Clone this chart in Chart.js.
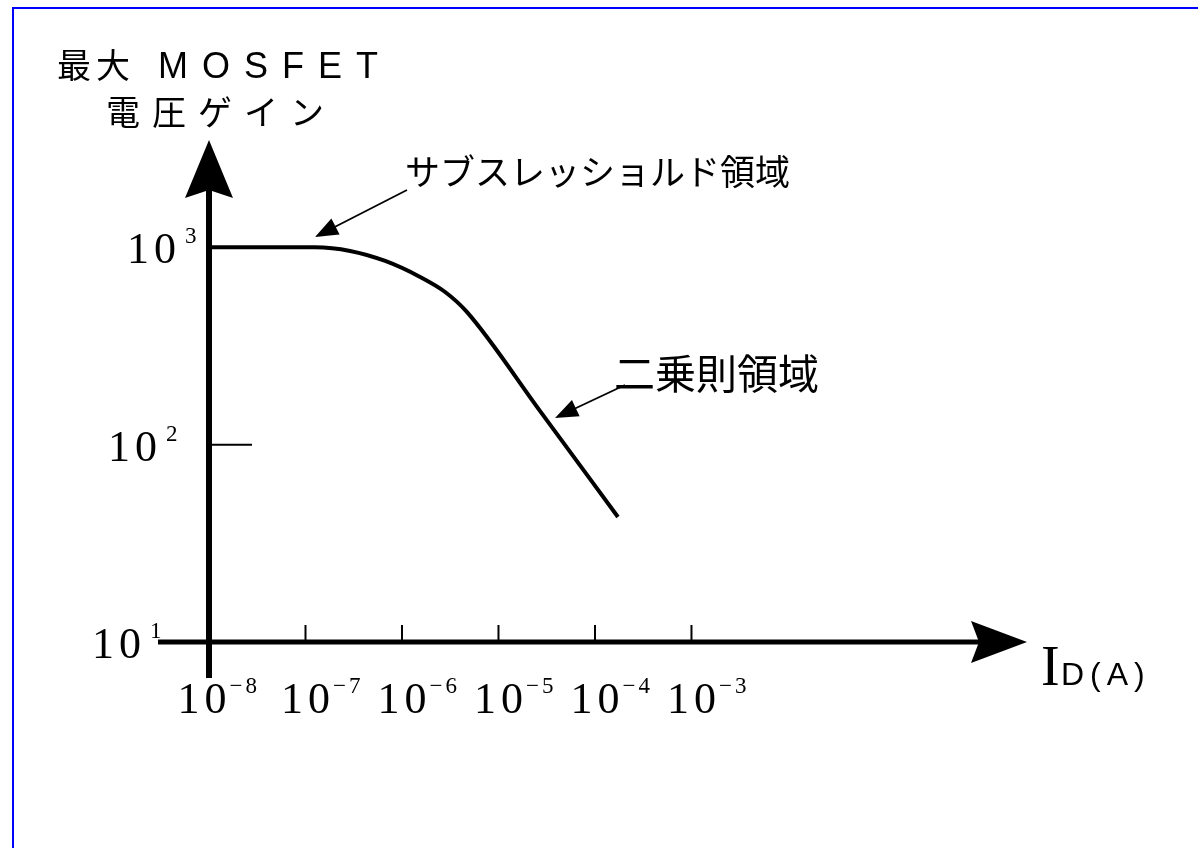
<!DOCTYPE html>
<html>
<head>
<meta charset="utf-8">
<script src="https://cdn.jsdelivr.net/npm/chart.js@4.4.0/dist/chart.umd.min.js"></script>
<style>
html, body { margin: 0; padding: 0; background: #fff; overflow: hidden; }
#wrap { position: relative; width: 1198px; height: 848px; }
#frame { position: absolute; left: 12px; top: 7px; width: 1400px; height: 1000px;
         border-left: 2px solid #0000ff; border-top: 2px solid #0000ff; }
canvas { position: absolute; left: 0; top: 0; }
</style>
</head>
<body>
<div id="wrap">
  <div id="frame"></div>
  <canvas id="c" width="1198" height="848"></canvas>
</div>
<script>
// drain current (A) vs max MOSFET voltage gain
const drainCurrent = [1e-8, 1.25e-7, 2.9e-7, 6.7e-7, 1.54e-6, 2.8e-6, 4.7e-6, 2.7e-5, 1.73e-4]
const maxGain = [1000, 1000, 959, 853, 708, 594, 471, 148, 43]

const xTicks = [1e-8, 1e-7, 1e-6, 1e-5, 1e-4, 1e-3]
const xTickExp = ['−8', '−7', '−6', '−5', '−4', '−3']
const yTicks = [10, 100, 1000]
const yTickExp = ['1', '2', '3']
const yLabelLeft = [92, 108, 127]

const serif = '"Liberation Serif", "Times New Roman", serif'
const sans = '"Liberation Sans", Arial, sans-serif'
const jp = '"Noto Sans CJK JP", sans-serif'

// draw text char by char with extra spacing, returns right edge
function spaced(ctx, str, x, y, sp) {
    let cx = x
    for (const ch of str) {
        ctx.fillText(ch, cx, y)
        cx += ctx.measureText(ch).width + sp
    }
    return cx - sp
}
function spacedWidth(ctx, str, sp) {
    let w = 0
    for (const ch of str) w += ctx.measureText(ch).width + sp
    return w - sp
}

function arrowHead(ctx, tx, ty, fx, fy, len, half, notch) {
    const dx = tx - fx, dy = ty - fy
    const d = Math.hypot(dx, dy)
    const ux = dx / d, uy = dy / d
    const nx = -uy, ny = ux
    ctx.beginPath()
    ctx.moveTo(tx, ty)
    ctx.lineTo(tx - ux * len + nx * half, ty - uy * len + ny * half)
    ctx.lineTo(tx - ux * (len - notch), ty - uy * (len - notch))
    ctx.lineTo(tx - ux * len - nx * half, ty - uy * len - ny * half)
    ctx.closePath()
    ctx.fill()
}

const sketchAxes = {
    id: 'sketchAxes',
    afterDatasetsDraw(chart) {
        const ctx = chart.ctx
        const xs = chart.scales.x, ys = chart.scales.y
        const area = chart.chartArea
        const ax = xs.getPixelForValue(xTicks[0])
        const ay = ys.getPixelForValue(yTicks[0])
        ctx.save()
        ctx.fillStyle = '#000'
        ctx.strokeStyle = '#000'

        // main axes
        ctx.lineWidth = 6
        ctx.beginPath()
        ctx.moveTo(ax, area.top + 40)
        ctx.lineTo(ax, ay + 36)
        ctx.stroke()
        arrowHead(ctx, ax, area.top, ax, area.top + 10, 58, 24, 8)

        ctx.lineWidth = 5
        ctx.beginPath()
        ctx.moveTo(ax - 51, ay)
        ctx.lineTo(area.right - 40, ay)
        ctx.stroke()
        arrowHead(ctx, area.right, ay, area.right - 10, ay, 56, 21, 8)

        // ticks
        ctx.lineWidth = 2
        xTicks.slice(1).forEach(v => {
            const px = xs.getPixelForValue(v)
            ctx.beginPath()
            ctx.moveTo(px, ay)
            ctx.lineTo(px, ay - 17)
            ctx.stroke()
        })
        yTicks.slice(1, 2).forEach(v => {
            const py = ys.getPixelForValue(v)
            ctx.beginPath()
            ctx.moveTo(ax, py)
            ctx.lineTo(ax + 43, py)
            ctx.stroke()
        })

        // x tick labels
        ctx.textBaseline = 'alphabetic'
        ctx.textAlign = 'left'
        xTicks.forEach((v, i) => {
            const px = xs.getPixelForValue(v)
            ctx.font = '44px ' + serif
            const w = spacedWidth(ctx, '10', 5)
            const shift = i === 0 ? -7 : 0
            const end = spaced(ctx, '10', px - w / 2 + shift, ay + 71, 5)
            ctx.font = '23px ' + serif
            spaced(ctx, xTickExp[i], end + 3, ay + 51, 3)
        })
        // y tick labels
        yTicks.forEach((v, i) => {
            const py = ys.getPixelForValue(v)
            ctx.font = '44px ' + serif
            const end = spaced(ctx, '10', yLabelLeft[i], py + 16, 5)
            ctx.font = '23px ' + serif
            ctx.fillText(yTickExp[i], end + 9, py - 4)
        })

        // axis titles
        ctx.font = '34px ' + jp
        spaced(ctx, '最大', 57, 78, 5)
        ctx.font = '36px ' + sans
        spaced(ctx, 'MOSFET', 158, 78, 14)
        ctx.font = '34px ' + jp
        spaced(ctx, '電圧ゲイン', 106, 125, 12)

        ctx.font = '56px ' + serif
        ctx.fillText('I', 1041, ay + 43)
        ctx.font = '32px ' + sans
        spaced(ctx, 'D(A)', 1061, ay + 43, 6)

        // region notes
        ctx.font = '35px ' + jp
        ctx.fillText('サブスレッショルド領域', 405, 185)
        ctx.font = '41px ' + jp
        ctx.fillText('二乗則領域', 614, 389)

        ctx.lineWidth = 1.8
        const notes = [[407, 190, 315, 237], [625, 385, 555, 418]]
        notes.forEach(([fx, fy, tx, ty]) => {
            ctx.beginPath()
            ctx.moveTo(fx, fy)
            ctx.lineTo(tx + (fx - tx) * 0.15, ty + (fy - ty) * 0.15)
            ctx.stroke()
            arrowHead(ctx, tx, ty, fx, fy, 23, 9, 0)
        })
        ctx.restore()
    }
}

new Chart(document.getElementById('c'), {
    type: 'line',
    data: {
        datasets: [{
            data: drainCurrent.map((x, i) => ({ x: x, y: maxGain[i] })),
            borderColor: '#000',
            borderWidth: 4,
            pointRadius: 0,
            fill: false,
            cubicInterpolationMode: 'monotone'
        }]
    },
    options: {
        responsive: false,
        animation: false,
        devicePixelRatio: 1,
        events: [],
        layout: { padding: { left: 209, right: 171, top: 140, bottom: 206 } },
        plugins: { legend: { display: false }, tooltip: { enabled: false } },
        scales: {
            x: { type: 'logarithmic', min: 1e-8, max: 3, display: false },
            y: { type: 'logarithmic', min: 10, max: 3500, display: false }
        }
    },
    plugins: [sketchAxes]
})
</script>
</body>
</html>
